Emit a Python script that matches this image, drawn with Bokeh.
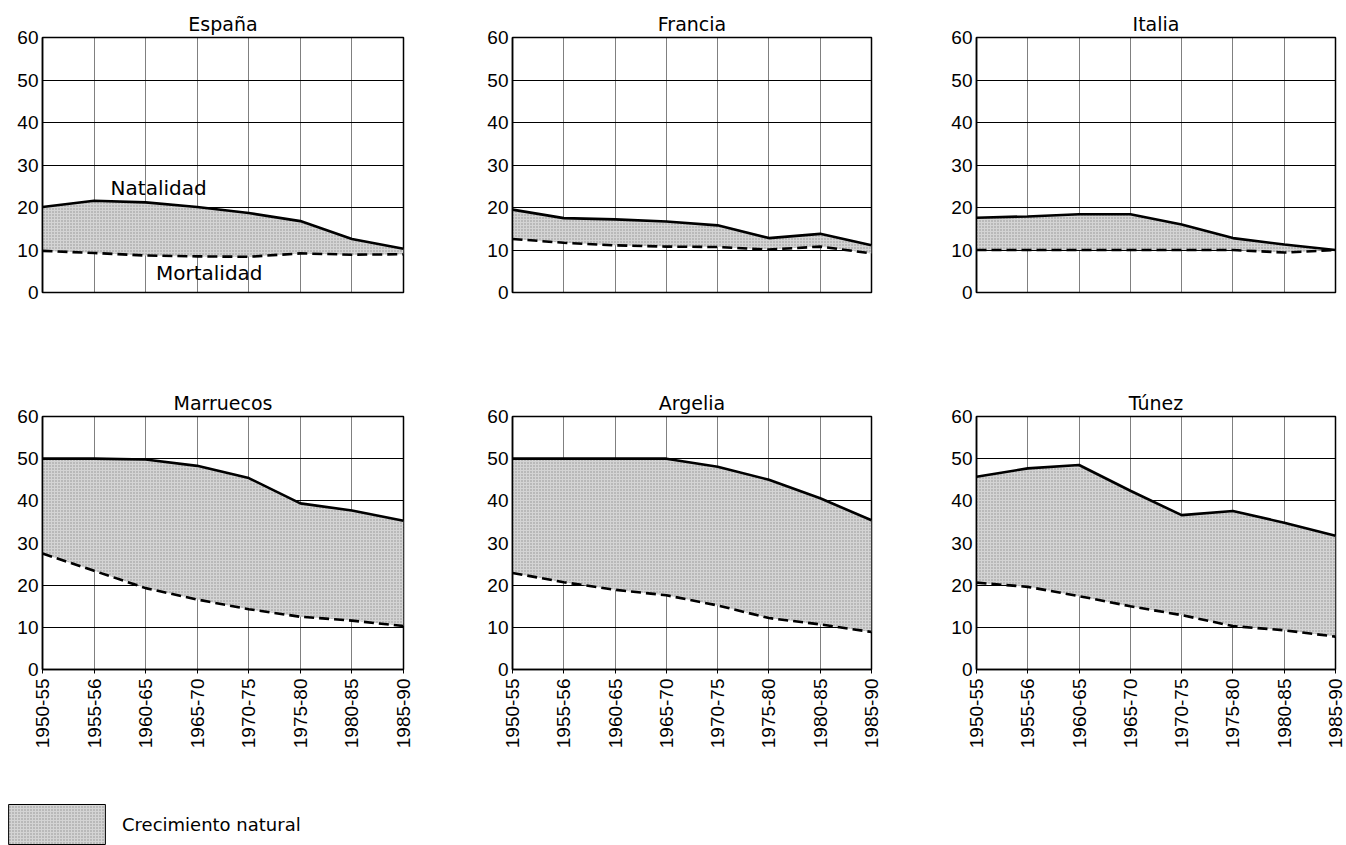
import math
from bokeh.plotting import figure
from bokeh.layouts import column, row
from bokeh.models import Range1d, FixedTicker, Legend, LegendItem, ColumnDataSource
from bokeh.embed import file_html
from bokeh.resources import INLINE
from bokeh.core.properties import value

periods = ["1950-55", "1955-56", "1960-65", "1965-70", "1970-75", "1975-80", "1980-85", "1985-90"]
countries = ["España", "Francia", "Italia", "Marruecos", "Argelia", "Túnez"]

natalidad_espana = [20.1, 21.6, 21.2, 20.1, 18.7, 16.8, 12.6, 10.3]
mortalidad_espana = [9.8, 9.3, 8.7, 8.5, 8.4, 9.2, 8.9, 9.0]
natalidad_francia = [19.5, 17.5, 17.2, 16.7, 15.8, 12.8, 13.8, 11.1]
mortalidad_francia = [12.6, 11.7, 11.1, 10.8, 10.7, 10.1, 10.8, 9.2]
natalidad_italia = [17.6, 17.9, 18.4, 18.4, 16.0, 12.8, 11.3, 10.0]
mortalidad_italia = [10.0, 10.0, 10.0, 10.0, 10.0, 10.0, 9.4, 10.0]
natalidad_marruecos = [50.0, 50.0, 49.8, 48.3, 45.4, 39.4, 37.7, 35.3]
mortalidad_marruecos = [27.5, 23.4, 19.3, 16.6, 14.3, 12.5, 11.6, 10.3]
natalidad_argelia = [50.0, 50.0, 50.0, 50.0, 48.1, 45.0, 40.6, 35.4]
mortalidad_argelia = [22.9, 20.7, 18.9, 17.6, 15.2, 12.2, 10.7, 8.9]
natalidad_tunez = [45.7, 47.7, 48.5, 42.4, 36.6, 37.6, 34.8, 31.7]
mortalidad_tunez = [20.6, 19.6, 17.4, 15.0, 12.9, 10.3, 9.3, 7.8]

natalidad = [natalidad_espana, natalidad_francia, natalidad_italia,
             natalidad_marruecos, natalidad_argelia, natalidad_tunez]
mortalidad = [mortalidad_espana, mortalidad_francia, mortalidad_italia,
              mortalidad_marruecos, mortalidad_argelia, mortalidad_tunez]
y_ticks = [0, 10, 20, 30, 40, 50, 60]

FILL = "#d4d4d4"
TICK_FONT = "Liberation Sans"
TEXT_FONT = "DejaVu Sans"

frame_w = [361, 359, 359]
border_l = [42, 34, 34]
border_r = [75, 71, 11]


def make_panel(i):
    top_row = i < 3
    col = i % 3
    xs = list(range(len(periods)))
    p = figure(
        frame_width=frame_w[col],
        frame_height=255 if top_row else 253,
        min_border_left=border_l[col],
        min_border_right=border_r[col],
        min_border_top=37 if top_row else 29,
        min_border_bottom=94 if top_row else 122,
        x_range=Range1d(0, len(periods) - 1),
        y_range=Range1d(0, 60),
        toolbar_location=None,
        output_backend="svg",
        title=countries[i],
    )
    p.title.align = "center"
    p.title.text_font = TEXT_FONT
    p.title.text_font_size = "19px"
    p.title.text_font_style = "normal"
    p.title.text_color = "black"
    p.title.standoff = 6

    p.outline_line_color = "black"
    p.outline_line_width = 1.5
    p.background_fill_color = "white"
    p.border_fill_color = "white"

    # grids
    p.ygrid.ticker = FixedTicker(ticks=y_ticks)
    p.ygrid.grid_line_color = "black"
    p.ygrid.grid_line_width = 1
    p.ygrid.grid_line_alpha = 1
    p.xgrid.ticker = FixedTicker(ticks=xs)
    p.xgrid.grid_line_color = "black"
    p.xgrid.grid_line_width = 1
    p.xgrid.grid_line_alpha = 1
    p.xgrid.grid_line_dash = "1 1"

    # y axis
    p.yaxis.ticker = FixedTicker(ticks=y_ticks)
    p.yaxis.major_tick_out = 0
    p.yaxis.major_tick_in = 0
    p.yaxis.minor_tick_line_color = None
    p.yaxis.axis_line_color = "black"
    p.yaxis.axis_line_width = 1.5
    p.yaxis.major_label_text_font = TICK_FONT
    p.yaxis.major_label_text_font_size = "19px"
    p.yaxis.major_label_text_color = "black"
    p.yaxis.major_label_standoff = 4

    # x axis
    p.xaxis.ticker = FixedTicker(ticks=xs)
    p.xaxis.major_label_overrides = {k: periods[k] for k in xs}
    p.xaxis.minor_tick_line_color = None
    p.xaxis.axis_line_color = "black"
    p.xaxis.axis_line_width = 1.5
    if top_row:
        p.xaxis.visible = False
    else:
        p.xaxis.major_tick_out = 4
        p.xaxis.major_tick_in = 0
        p.xaxis.major_tick_line_color = "black"
        p.xaxis.major_label_orientation = math.pi / 2
        p.xaxis.major_label_text_font = TICK_FONT
        p.xaxis.major_label_text_font_size = "19px"
        p.xaxis.major_label_text_color = "black"
        p.xaxis.major_label_standoff = 5

    src = ColumnDataSource(dict(x=xs, nat=natalidad[i], mor=mortalidad[i]))
    p.varea(x="x", y1="mor", y2="nat", source=src, fill_color=FILL,
            hatch_pattern="dot", hatch_color="#909090", hatch_scale=3, hatch_weight=1)
    p.line(x="x", y="nat", source=src, line_color="black", line_width=2.6)
    p.line(x="x", y="mor", source=src, line_color="black", line_width=2.6,
           line_dash="10 5")

    if i == 0:
        p.text(x=[1.32], y=[24.5], text=["Natalidad"], text_font=value(TEXT_FONT),
               text_font_size="20px", text_baseline="middle", text_color="black")
        p.text(x=[2.2], y=[4.7], text=["Mortalidad"], text_font=value(TEXT_FONT),
               text_font_size="20px", text_baseline="middle", text_color="black")
    return p


panels = [make_panel(i) for i in range(6)]

leg = figure(width=420, height=55, min_border=0, toolbar_location=None,
             output_backend="svg", x_range=Range1d(0, 1), y_range=Range1d(0, 1))
leg.axis.visible = False
leg.grid.visible = False
leg.outline_line_color = None
# swatch-only renderer placed outside the visible range
r = leg.quad(left=[5], right=[6], top=[6], bottom=[5], fill_color=FILL,
             hatch_pattern="dot", hatch_color="#909090", hatch_scale=3, hatch_weight=1,
             line_color="black", line_width=1)
legend = Legend(items=[LegendItem(label="Crecimiento natural", renderers=[r])],
                location=(-4, -3), padding=0, margin=0, border_line_color=None,
                background_fill_alpha=0, glyph_width=121, glyph_height=50,
                label_standoff=5, label_text_font=TEXT_FONT,
                label_text_font_size="18px", label_text_color="black")
leg.add_layout(legend, "center")

layout = column(row(*panels[:3]), row(*panels[3:]), leg)

open("out.html", "w").write(file_html(layout, INLINE))
